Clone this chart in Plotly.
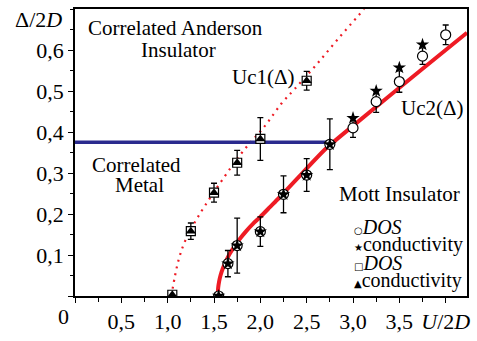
import plotly.graph_objects as go

# ---- data ----
# Mott side (Uc2): DOS circles and conductivity stars
mott_U = [1.55, 1.65, 1.75, 2.0, 2.25, 2.5, 2.75, 3.0, 3.25, 3.5, 3.75, 4.0]
mott_dos = [0.0, 0.079, 0.123, 0.157, 0.248, 0.295, 0.37, 0.41, 0.474, 0.523, 0.585, 0.637]
mott_err = [0.0, 0.032, 0.067, 0.036, 0.045, 0.04, 0.062, 0.023, 0.026, 0.026, 0.02, 0.024]
star_U = [1.55, 1.65, 1.75, 2.0, 2.25, 2.5, 2.75, 3.0, 3.25, 3.5, 3.75]
star_cond = [0.0, 0.079, 0.123, 0.157, 0.248, 0.295, 0.37, 0.434, 0.5, 0.557, 0.613]

# Anderson side (Uc1): DOS squares and conductivity triangles
and_U = [1.05, 1.25, 1.5, 1.75, 2.0, 2.5]
and_dos = [0.003, 0.158, 0.252, 0.325, 0.383, 0.525]
and_err = [0.0, 0.02, 0.023, 0.03, 0.052, 0.023]
and_cond = [0.003, 0.158, 0.252, 0.325, 0.383, 0.525]

# Uc2 line (solid) and Uc1 line (dotted)
uc2_U = [1.54, 1.545, 1.555, 1.57, 1.6, 1.65, 1.7, 1.77, 1.85, 1.92, 2.0, 2.1, 2.2,
         2.4, 2.7, 3.0, 3.5, 4.0, 4.23]
uc2_D = [0.0, 0.02, 0.035, 0.05, 0.07, 0.095, 0.114, 0.137, 0.159, 0.176, 0.193, 0.216,
         0.239, 0.287, 0.358, 0.415, 0.508, 0.6, 0.642]
uc1_U = [1.04, 1.08, 1.125, 1.19, 1.33, 1.61, 1.82, 2.05, 2.23, 2.375, 2.6, 2.85, 3.12]
uc1_D = [0.0, 0.05, 0.094, 0.135, 0.194, 0.29, 0.355, 0.415, 0.47, 0.506, 0.563, 0.63, 0.7]

# horizontal boundary
hline_U = [0.0, 2.75]
hline_D = [0.375, 0.375]

x_ticks = [0, 0.5, 1.0, 1.5, 2.0, 2.5, 3.0, 3.5, 4.0]
x_ticktext = ["", "0,5", "1,0", "1,5", "2,0", "2,5", "3,0", "3,5", "<i>U</i>/2<i>D</i>"]
y_ticks = [0, 0.1, 0.2, 0.3, 0.4, 0.5, 0.6]
y_ticktext = ["", "0,1", "0,2", "0,3", "0,4", "0,5", "0,6"]

FONT = "Liberation Serif, Times New Roman, serif"
RED = "#ee1b24"
BLUE = "#2a2a8e"

fig = go.Figure()

fig.add_trace(go.Scatter(x=uc1_U, y=uc1_D, mode="lines",
                         line=dict(color=RED, width=2.2, dash="2px,5px", shape="spline"),
                         hoverinfo="skip"))
fig.add_trace(go.Scatter(x=hline_U, y=hline_D, mode="lines",
                         line=dict(color=BLUE, width=3.5)))
fig.add_trace(go.Scatter(x=uc2_U, y=uc2_D, mode="lines",
                         line=dict(color=RED, width=4, shape="spline", smoothing=0.6)))

fig.add_trace(go.Scatter(x=and_U, y=and_dos, mode="markers",
                         marker=dict(symbol="square", size=9, color="white",
                                     line=dict(color="black", width=1.2)),
                         error_y=dict(type="data", array=and_err, color="black",
                                      thickness=1.3, width=3)))
fig.add_trace(go.Scatter(x=and_U, y=and_cond, mode="markers",
                         marker=dict(symbol="triangle-up", size=9, color="black",
                                     line=dict(width=0))))

fig.add_trace(go.Scatter(x=mott_U, y=mott_dos, mode="markers",
                         marker=dict(symbol="circle", size=10, color="white",
                                     line=dict(color="black", width=1.2)),
                         error_y=dict(type="data", array=mott_err, color="black",
                                      thickness=1.3, width=3)))
fig.add_trace(go.Scatter(x=star_U, y=star_cond, mode="markers",
                         marker=dict(symbol="star", size=10, color="black",
                                     line=dict(width=0))))

ann = []
def txt(x, y, s, size=21, xanchor="center", xref="x", yref="y"):
    ann.append(dict(x=x, y=y, xref=xref, yref=yref, text=s, showarrow=False,
                    xanchor=xanchor, yanchor="middle",
                    font=dict(family=FONT, size=size, color="black")))

txt(1.087, 0.654, "Correlated Anderson")
txt(1.113, 0.599, "Insulator")
txt(2.03, 0.535, "Uc1(Δ)")
txt(3.855, 0.459, "Uc2(Δ)")
txt(0.66, 0.32, "Correlated")
txt(0.696, 0.27, "Metal")
txt(3.5, 0.249, "Mott Insulator")

SYM = '<span style="font-family:DejaVu Sans;font-size:10px">%s</span>'
txt(2.99, 0.169, SYM % "○" + "<i>DOS</i>", size=20, xanchor="left")
txt(2.99, 0.125, SYM % "★" + "conductivity", size=20, xanchor="left")
txt(2.99, 0.081, SYM % "□" + "<i>DOS</i>", size=20, xanchor="left")
txt(2.99, 0.037, SYM % "▲" + "conductivity", size=20, xanchor="left")

txt(-0.094, 0.963, "Δ/2<i>D</i>", size=22, xref="paper", yref="paper")
txt(-0.03, -0.07, "0", size=22, xref="paper", yref="paper")

fig.update_layout(
    width=477, height=341,
    margin=dict(l=75, r=7, t=7, b=40),
    paper_bgcolor="white", plot_bgcolor="white",
    showlegend=False,
    annotations=ann,
    font=dict(family=FONT, size=22, color="black"),
)
fig.update_xaxes(range=[0, 4.23], tickvals=x_ticks, ticktext=x_ticktext,
                 showline=True, linecolor="black", linewidth=1.5, mirror=True,
                 ticks="outside", ticklen=5, tickwidth=1.2, tickcolor="black",
                 minor=dict(dtick=0.25, tick0=0, ticks="outside", ticklen=4,
                            tickcolor="black", tickwidth=1),
                 showgrid=False, zeroline=False,
                 tickfont=dict(family=FONT, size=22, color="black"))
fig.update_yaxes(range=[0, 0.7], tickvals=y_ticks, ticktext=y_ticktext,
                 showline=True, linecolor="black", linewidth=1.5, mirror=True,
                 ticks="outside", ticklen=5, tickwidth=1.2, tickcolor="black",
                 minor=dict(dtick=0.05, tick0=0, ticks="outside", ticklen=3,
                            tickcolor="black", tickwidth=1),
                 showgrid=False, zeroline=False,
                 tickfont=dict(family=FONT, size=22, color="black"))

fig.write_html("out.html")
